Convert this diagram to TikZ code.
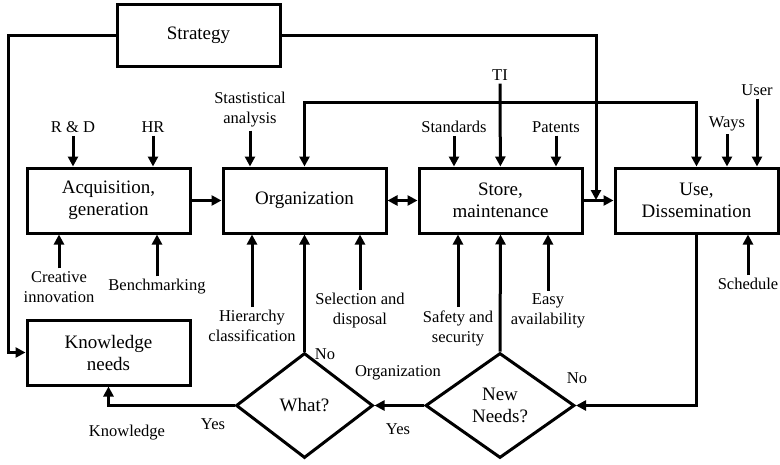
\documentclass[tikz,border=0pt]{standalone}
\usepackage{fontspec}
\setmainfont{Liberation Serif}
\usetikzlibrary{positioning,shapes.geometric,arrows.meta}

\tikzstyle{b} = [rectangle, draw, line width=3pt, sharp corners, minimum width=163pt, minimum height=65pt, inner sep=0pt, align=center, font=\fontsize{19}{22}\selectfont]
\tikzstyle{d} = [diamond, draw, line width=3pt, inner sep=0pt, align=center, font=\fontsize{19}{22}\selectfont]
\tikzstyle{t} = [inner sep=3pt, align=center, font=\fontsize{16.5}{20}\selectfont]
\tikzstyle{l} = [draw, line width=3pt, -{Triangle[length=10pt,width=10pt]}]

\begin{document}
\begin{tikzpicture}[x=1pt, y=-1pt, node distance=196pt]
    \useasboundingbox (0,0) rectangle (780,464);
    % Place nodes
    \node [b, minimum height=62pt] (str) at (198.5,35) {Strategy};
    \node [b] (org) at (304.5,200.5) {Organization};
    \node [b, left of=org] (acq) {Acquisition,\\generation};
    \node [b, right of=org] (sto) {Store,\\maintenance};
    \node [b, right of=sto] (use) {Use,\\Dissemination};
    \node [b] (kn) at (108.5,352.5) {Knowledge\\needs};
    \node [d, minimum width=137pt, minimum height=105pt] (what) at (304.5,405.5) {What?};
    \node [d, minimum width=149pt, minimum height=105pt] (nn) at (500,405.5) {New\\Needs?};

    % Inputs
    \node [t] (rd) at (73,127) {R \& D};
    \node [t] (hr) at (153,127) {HR};
    \node [t] (stat) at (250,110) {Stastistical\\analysis};
    \node [t] (ti) at (500,75) {TI};
    \node [t] (std) at (454,127) {Standards};
    \node [t] (pat) at (556,127) {Patents};
    \node [t] (ways) at (727,124) {Ways};
    \node [t] (user) at (757,90) {User};
    \node [t] (cre) at (59,287) {Creative\\innovation};
    \node [t] (bench) at (157,287) {Benchmarking};
    \node [t] (hier) at (252,326) {Hierarchy\\classification};
    \node [t] (sel) at (360,311) {Selection and\\disposal};
    \node [t] (safe) at (458,328) {Safety and\\security};
    \node [t] (easy) at (548,311) {Easy\\availability};
    \node [t] (sched) at (748,284) {Schedule};

    % Branch labels
    \node [t] (no1) at (325,354) {No};
    \node [t] (orgl) at (398,373) {Organization};
    \node [t] (yes1) at (213,424) {Yes};
    \node [t] (knl) at (127,433) {Knowledge};
    \node [t] (yes2) at (398,429) {Yes};
    \node [t] (no2) at (577,378) {No};

    \coordinate (lc) at (8,200);
    \coordinate (rc) at (596,200);
    \coordinate (tj) at (500,102);

    % Draw edges
    \path [l] (str.west) -| (lc) |- (kn.west);
    \path [l] (str.east) -| (rc);
    \path [l] (acq) -- (org);
    \path [l, {Triangle[length=10pt,width=10pt]}-{Triangle[length=10pt,width=10pt]}] (org) -- (sto);
    \path [l] (sto) -- (use);
    \path [l] (ti) -- (sto);
    \path [l] (tj) -| (org.north);
    \path [l] (tj) -| (use.north);
    \path [l] (rd) -- (rd |- acq.north);
    \path [l] (hr) -- (hr |- acq.north);
    \path [l] (stat) -- (stat |- org.north);
    \path [l] (std) -- (std |- sto.north);
    \path [l] (pat) -- (pat |- sto.north);
    \path [l] (ways) -- (ways |- use.north);
    \path [l] (user) -- (user |- use.north);
    \path [l] (cre) -- (cre |- acq.south);
    \path [l] (bench) -- (bench |- acq.south);
    \path [l] (hier) -- (hier |- org.south);
    \path [l] (sel) -- (sel |- org.south);
    \path [l] (safe) -- (safe |- sto.south);
    \path [l] (easy) -- (easy |- sto.south);
    \path [l] (sched) -- (sched |- use.south);
    \path [l] (use.south) |- (nn.east);
    \path [l] (nn.west) -- (what.east);
    \path [l] (nn.north) -- (sto.south);
    \path [l] (what.north) -- (org.south);
    \path [l] (what.west) -| (kn.south);

\end{tikzpicture}
\end{document}
